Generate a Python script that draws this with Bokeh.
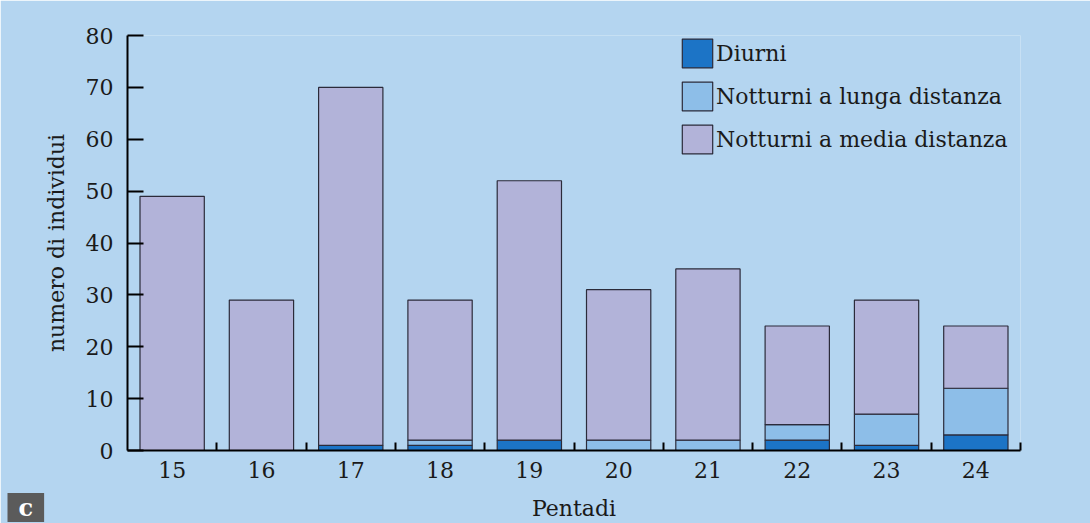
from bokeh.plotting import figure
from bokeh.models import Range1d, FixedTicker, Legend, Label
from bokeh.embed import file_html
from bokeh.resources import INLINE

# ---- data ----
pentadi = [15, 16, 17, 18, 19, 20, 21, 22, 23, 24]
diurni = [0, 0, 1, 1, 2, 0, 0, 2, 1, 3]
notturni_lunga = [0, 0, 0, 1, 0, 2, 2, 3, 6, 9]
notturni_media = [49, 29, 69, 27, 50, 29, 33, 19, 22, 12]
series_names = ["Diurni", "Notturni a lunga distanza", "Notturni a media distanza"]
y_ticks = [0, 10, 20, 30, 40, 50, 60, 70, 80]

BG = "#b4d5f0"
COLORS = ["#1c74c6", "#8dbee8", "#b2b3d9"]
FONT = "DejaVu Serif"
TXT = "#1a1a1a"

p = figure(width=1090, height=523, output_backend="svg", toolbar_location=None,
           x_range=Range1d(14.5, 24.5), y_range=Range1d(0, 80),
           min_border_left=127, min_border_right=70, min_border_top=35, min_border_bottom=73)
p.background_fill_color = BG
p.border_fill_color = BG
p.outline_line_color = None
p.xgrid.visible = False
p.ygrid.visible = False

data = dict(x=pentadi, diurni=diurni, lunga=notturni_lunga, media=notturni_media)
renderers = p.vbar_stack(["diurni", "lunga", "media"], x="x", width=0.72, source=data,
                         color=COLORS, line_color="#2b2b3a", line_width=1.2)

legend = Legend(items=[(n, [r]) for n, r in zip(series_names, renderers)],
                location=(551, 293), orientation="vertical",
                glyph_width=38, glyph_height=36, spacing=7, padding=0, margin=0,
                label_standoff=0, background_fill_alpha=0, border_line_color=None,
                label_text_font=FONT, label_text_font_size="22px", label_text_color=TXT)
p.add_layout(legend)

# x axis
xa = p.xaxis[0]
xa.ticker = FixedTicker(ticks=pentadi, minor_ticks=[v + 0.5 for v in pentadi])
xa.major_tick_in = 0
xa.major_tick_out = 0
xa.minor_tick_in = 8
xa.minor_tick_out = 0
xa.minor_tick_line_width = 2
xa.axis_line_width = 2
xa.axis_line_color = "black"
xa.major_label_text_font = FONT
xa.major_label_text_font_size = "22px"
xa.major_label_text_color = TXT
xa.major_label_standoff = 11
xa.axis_label = "Pentadi"
xa.axis_label_text_font = FONT
xa.axis_label_text_font_size = "22px"
xa.axis_label_text_font_style = "normal"
xa.axis_label_text_color = TXT
xa.axis_label_standoff = 15

# y axis
ya = p.yaxis[0]
ya.ticker = FixedTicker(ticks=y_ticks)
ya.major_tick_in = 16
ya.major_tick_out = 0
ya.minor_tick_in = 0
ya.minor_tick_out = 0
ya.major_tick_line_width = 2
ya.axis_line_width = 2
ya.axis_line_color = "black"
ya.major_label_text_font = FONT
ya.major_label_text_font_size = "22px"
ya.major_label_text_color = TXT
ya.major_label_standoff = 14
ya.axis_label = "numero di individui"
ya.axis_label_text_font = FONT
ya.axis_label_text_font_size = "22px"
ya.axis_label_text_font_style = "normal"
ya.axis_label_text_color = TXT
ya.axis_label_standoff = 14

# panel letter "c" placed in the left side panel (not clipped to the frame)
tag = Label(x=4, y=-57, x_units="screen", y_units="screen", text="c",
            text_align="left", text_baseline="middle",
            text_font=FONT, text_font_size="24px", text_font_style="bold",
            text_color="white", background_fill_color="#5b5b5b", padding=(11, 0))
p.add_layout(tag, "left")

open("out.html", "w").write(file_html(p, INLINE))
